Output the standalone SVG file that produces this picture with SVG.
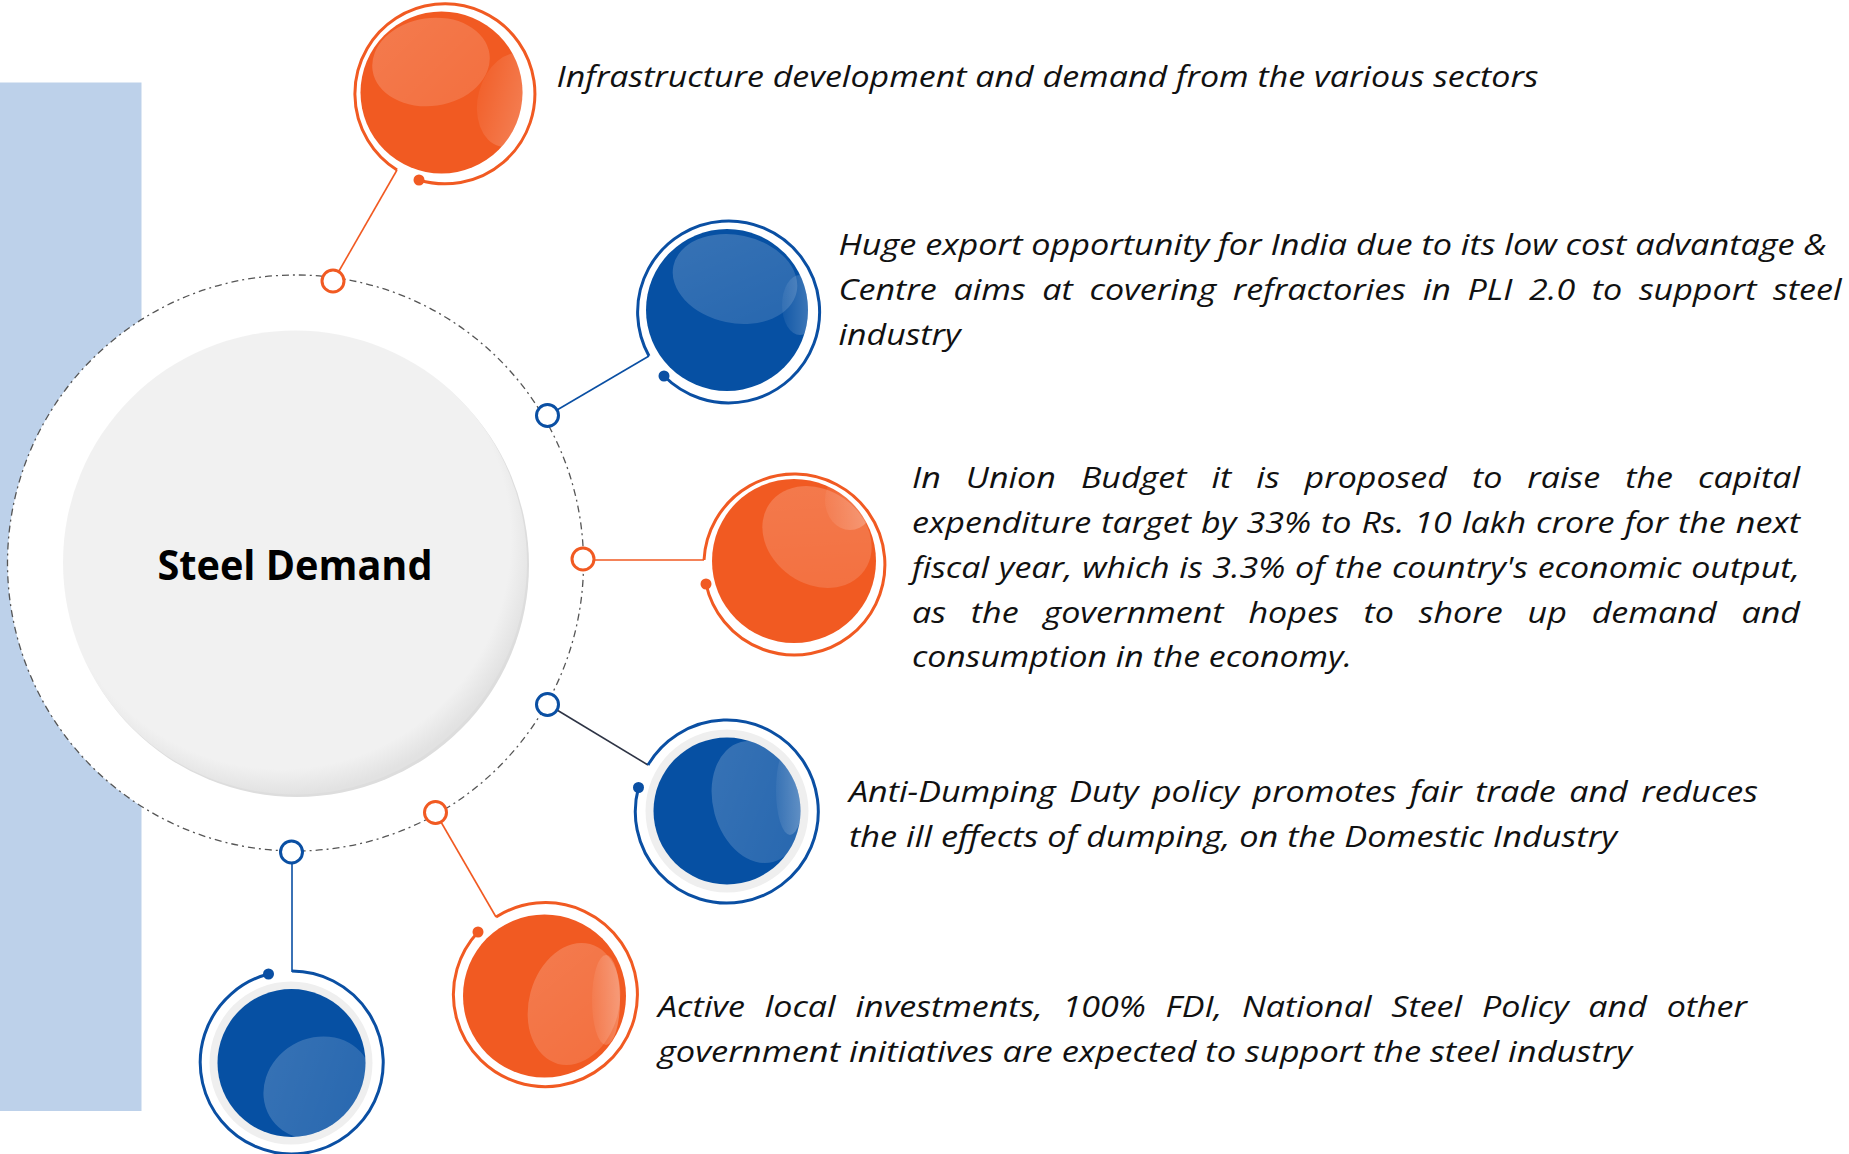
<svg xmlns="http://www.w3.org/2000/svg" width="1849" height="1154" viewBox="0 0 1849 1154">
<style>
  .txt { font-family: "Open Sans", "Liberation Sans", sans-serif; font-style: italic; font-size: 30px; fill: #111; }
  .title { font-family: "Open Sans", "Liberation Sans", sans-serif; font-weight: bold; font-size: 41px; fill: #000; }
  .ringO { fill: none; stroke: #F15A22; stroke-width: 3; }
  .ringB { fill: none; stroke: #0A4FA3; stroke-width: 3; }
  .ballO { fill: #F15A22; }
  .ballB { fill: #0650A3; }
  .dotO { fill: #F15A22; }
  .dotB { fill: #0A4FA3; }
  .band { fill: #EFEFEF; }
  .hl { fill: url(#hlg); }
  .hl2 { fill: url(#hlg2); }
  .knobO { fill: #fff; stroke: #F15A22; stroke-width: 3; }
  .knobB { fill: #fff; stroke: #0A4FA3; stroke-width: 3; }
  .conO { stroke: #F15A22; stroke-width: 1.6; fill: none; }
  .conB { stroke: #0A4FA3; stroke-width: 1.6; fill: none; }
  .conD { stroke: #2E3445; stroke-width: 1.6; fill: none; }
</style>
<defs>
  <linearGradient id="hlg" x1="0" y1="0" x2="1" y2="1">
    <stop offset="0" stop-color="#fff" stop-opacity="0.2"/>
    <stop offset="1" stop-color="#fff" stop-opacity="0.13"/>
  </linearGradient>
  <linearGradient id="hlg2" x1="0" y1="0" x2="1" y2="0">
    <stop offset="0" stop-color="#fff" stop-opacity="0.05"/>
    <stop offset="1" stop-color="#fff" stop-opacity="0.28"/>
  </linearGradient>
  <radialGradient id="hubShade" cx="0.47" cy="0.45" r="0.55">
    <stop offset="0.9" stop-color="#F1F1F1"/>
    <stop offset="1" stop-color="#E2E2E2"/>
  </radialGradient>
  <clipPath id="c1"><circle cx="441.5" cy="92.5" r="81"/></clipPath>
  <clipPath id="c2"><circle cx="727" cy="310" r="81"/></clipPath>
  <clipPath id="c3"><circle cx="794" cy="561" r="82"/></clipPath>
  <clipPath id="c4"><circle cx="727" cy="811" r="73.5"/></clipPath>
  <clipPath id="c5"><circle cx="544.5" cy="996" r="81.5"/></clipPath>
  <clipPath id="c6"><circle cx="291.5" cy="1063" r="74"/></clipPath>
</defs>

<rect x="0" y="82.5" width="141.5" height="1028.5" fill="#BDD1EA"/>

<g id="hub">
  <circle cx="295.5" cy="563" r="288" fill="#fff" stroke="#555" stroke-width="1.3" stroke-dasharray="7 4 2 4"/>
  <circle cx="297" cy="565" r="232" fill="#DDDDDD"/>
  <circle cx="295" cy="562.5" r="232" fill="url(#hubShade)"/>
  <text class="title" x="157.5" y="580" textLength="275" lengthAdjust="spacingAndGlyphs">Steel Demand</text>
</g>

<g id="connectors">
  <line class="conO" x1="339" y1="271" x2="397" y2="170"/>
  <line class="conB" x1="557" y1="410" x2="649" y2="356"/>
  <line class="conO" x1="594" y1="560" x2="704" y2="560"/>
  <line class="conD" x1="557" y1="710" x2="648" y2="765"/>
  <line class="conO" x1="441" y1="822" x2="496" y2="917"/>
  <line class="conB" x1="292" y1="863" x2="292" y2="972"/>
  <circle class="knobO" cx="333" cy="281" r="11"/>
  <circle class="knobB" cx="547.5" cy="415.5" r="11"/>
  <circle class="knobO" cx="583" cy="559" r="11"/>
  <circle class="knobB" cx="547.5" cy="704.5" r="11"/>
  <circle class="knobO" cx="435.5" cy="812.5" r="11"/>
  <circle class="knobB" cx="291.5" cy="852" r="11"/>
</g>

<g id="node1">
  <path class="ringO" d="M397,170 A90,90 0 1 1 419,180"/>
  <circle class="dotO" cx="419" cy="180" r="5.5"/>
  <circle class="ballO" cx="441.5" cy="92.5" r="81"/>
  <g clip-path="url(#c1)">
    <ellipse class="hl" cx="431" cy="62" rx="59" ry="44" transform="rotate(-8 431 62)"/>
    <ellipse class="hl2" cx="512" cy="100" rx="34" ry="48" transform="rotate(15 512 100)"/>
  </g>
  <text class="txt" x="556.5" y="87" textLength="982" lengthAdjust="spacingAndGlyphs">Infrastructure development and demand from the various sectors</text>
</g>

<g id="node2">
  <path class="ringB" d="M649,356 A91,91 0 1 1 664,376"/>
  <circle class="dotB" cx="664" cy="376" r="5.5"/>
  <circle class="ballB" cx="727" cy="310" r="81"/>
  <g clip-path="url(#c2)">
    <ellipse class="hl" cx="735" cy="279" rx="63" ry="44" transform="rotate(12 735 279)"/>
    <ellipse class="hl2" cx="800" cy="305" rx="18" ry="30"/>
  </g>
  <text class="txt" x="838.5" y="255" textLength="988" lengthAdjust="spacingAndGlyphs">Huge export opportunity for India due to its low cost advantage &amp;</text>
  <text class="txt" x="838.5" y="300" word-spacing="6.9" textLength="1003" lengthAdjust="spacingAndGlyphs">Centre aims at covering refractories in PLI 2.0 to support steel</text>
  <text class="txt" x="838.5" y="345" textLength="122" lengthAdjust="spacingAndGlyphs">industry</text>
</g>

<g id="node3">
  <path class="ringO" d="M704,560 A90.5,90.5 0 1 1 706,584"/>
  <circle class="dotO" cx="706" cy="584" r="5.5"/>
  <circle class="ballO" cx="794" cy="561" r="82"/>
  <g clip-path="url(#c3)">
    <ellipse class="hl" cx="817" cy="537" rx="58" ry="47" transform="rotate(35 817 537)"/>
    <ellipse class="hl2" cx="850" cy="500" rx="25" ry="30"/>
  </g>
  <text class="txt" x="912" y="488" word-spacing="14.3" textLength="888" lengthAdjust="spacingAndGlyphs">In Union Budget it is proposed to raise the capital</text>
  <text class="txt" x="912" y="533" word-spacing="1.06" textLength="888" lengthAdjust="spacingAndGlyphs">expenditure target by 33% to Rs. 10 lakh crore for the next</text>
  <text class="txt" x="912" y="578" word-spacing="0.78" textLength="888" lengthAdjust="spacingAndGlyphs">fiscal year, which is 3.3% of the country's economic output,</text>
  <text class="txt" x="912" y="622.5" word-spacing="14.1" textLength="888" lengthAdjust="spacingAndGlyphs">as the government hopes to shore up demand and</text>
  <text class="txt" x="912" y="667" textLength="440" lengthAdjust="spacingAndGlyphs">consumption in the economy.</text>
</g>

<g id="node4">
  <path class="ringB" d="M648,765 A91.5,91.5 0 1 1 638.5,787.5"/>
  <circle class="dotB" cx="638.5" cy="787.5" r="5.5"/>
  <circle class="band" cx="727" cy="811" r="81.5"/>
  <circle class="ballB" cx="727" cy="811" r="73.5"/>
  <g clip-path="url(#c4)">
    <ellipse class="hl" cx="757" cy="802" rx="44" ry="62" transform="rotate(-15 757 802)"/>
    <ellipse class="hl2" cx="790" cy="790" rx="14" ry="45"/>
  </g>
  <text class="txt" x="849" y="802" word-spacing="4.07" textLength="909" lengthAdjust="spacingAndGlyphs">Anti-Dumping Duty policy promotes fair trade and reduces</text>
  <text class="txt" x="849" y="847" textLength="768" lengthAdjust="spacingAndGlyphs">the ill effects of dumping, on the Domestic Industry</text>
</g>

<g id="node5">
  <path class="ringO" d="M496,917 A92,92 0 1 1 478,932"/>
  <circle class="dotO" cx="478" cy="932" r="5.5"/>
  <circle class="ballO" cx="544.5" cy="996" r="81.5"/>
  <g clip-path="url(#c5)">
    <ellipse class="hl" cx="574" cy="1004" rx="45" ry="62" transform="rotate(15 574 1004)"/>
    <ellipse class="hl2" cx="606" cy="1000" rx="14" ry="45"/>
  </g>
  <text class="txt" x="658" y="1017" word-spacing="9.65" textLength="1089" lengthAdjust="spacingAndGlyphs">Active local investments, 100% FDI, National Steel Policy and other</text>
  <text class="txt" x="658" y="1062" textLength="974" lengthAdjust="spacingAndGlyphs">government initiatives are expected to support the steel industry</text>
</g>

<g id="node6">
  <path class="ringB" d="M292,971 A91.5,91.5 0 1 1 268.5,974"/>
  <circle class="dotB" cx="268.5" cy="974" r="5.5"/>
  <circle class="band" cx="291" cy="1063" r="81.5"/>
  <circle class="ballB" cx="291.5" cy="1063" r="74"/>
  <g clip-path="url(#c6)">
    <ellipse class="hl" cx="318" cy="1088" rx="56" ry="50" transform="rotate(-30 318 1088)"/>
  </g>
</g>
</svg>
